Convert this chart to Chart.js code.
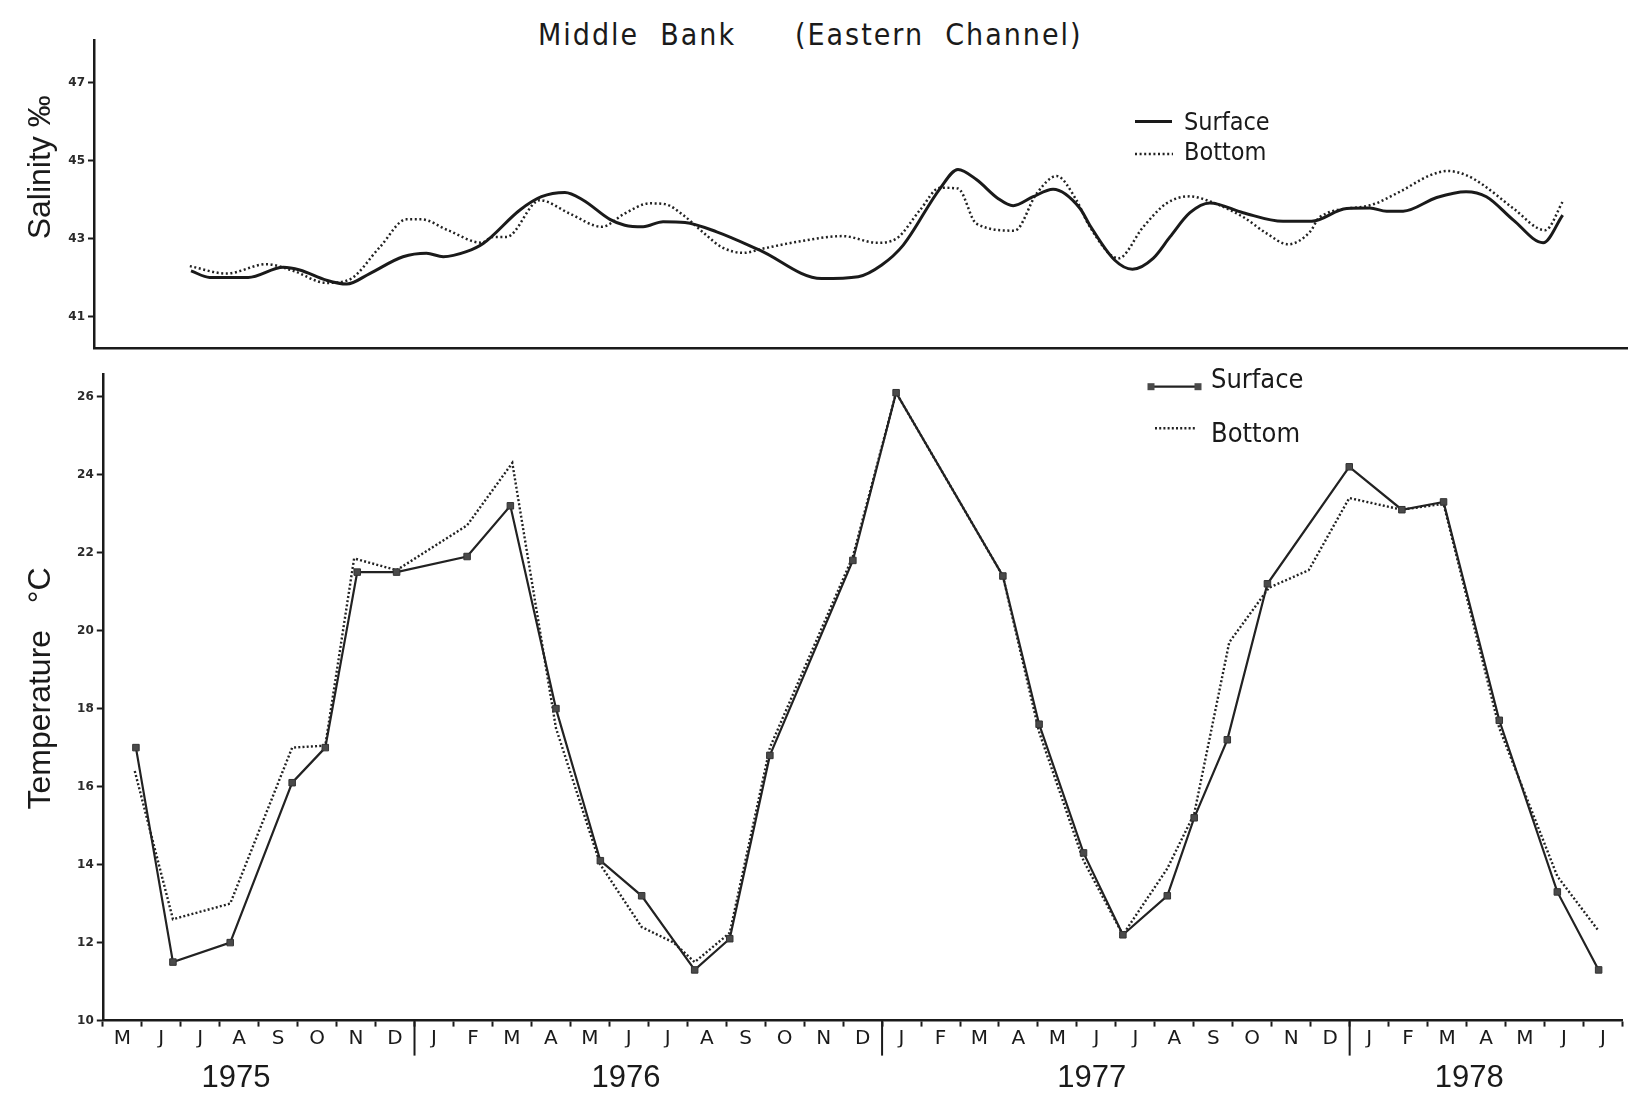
<!DOCTYPE html>
<html>
<head>
<meta charset="utf-8">
<title>Middle Bank (Eastern Channel)</title>
<script src="https://cdn.jsdelivr.net/npm/chart.js@4.4.1/dist/chart.umd.min.js"></script>
<style>
  html, body { margin: 0; padding: 0; background: #ffffff; width: 1628px; height: 1094px; overflow: hidden; }
  #title { position: absolute; top: 20px; left: 0; width: 1628px; height: 32px; line-height: 30px;
           font-family: 'DejaVu Sans Condensed', 'DejaVu Sans', sans-serif; font-size: 30px;
           letter-spacing: 2px; color: #1a1a1a; }
  #title span { position: absolute; top: 0; white-space: pre; }
  #salWrap { position: absolute; left: 0; top: 0; width: 1628px; height: 360px; }
  #tempWrap { position: absolute; left: 0; top: 360px; width: 1628px; height: 760px; }
</style>
</head>
<body>
<div id="title"><span style="left:538px">Middle  Bank</span><span style="left:795px">(Eastern  Channel)</span></div>
<div id="salWrap"><canvas id="sal" width="1628" height="360"></canvas></div>
<div id="tempWrap"><canvas id="temp" width="1628" height="760"></canvas></div>

<script>
// Time axis: months counted from 1 May 1975 (0) to 1 August 1978 (39)
const monthLabels = ['M','J','J','A','S','O','N','D',
  'J','F','M','A','M','J','J','A','S','O','N','D',
  'J','F','M','A','M','J','J','A','S','O','N','D',
  'J','F','M','A','M','J','J'];
const yearLabels = ['1975', '1976', '1977', '1978'];
const yearLabelAt = [3.42, 13.43, 25.38, 35.07];
const yearBreaks = [8, 20, 32];

const salinityTicks = [41, 43, 45, 47];
const temperatureTicks = [10, 12, 14, 16, 18, 20, 22, 24, 26];

// Salinity (‰)
const salinitySurfaceMonth = [2.26,2.74,3.72,4.62,5.04,5.72,6.24,6.83,7.68,8.28,8.71,9.30,9.73,10.67,11.22,
  11.82,12.29,12.97,13.35,13.82,14.33,14.89,15.70,16.80,18.38,19.32,19.92,20.47,21.41,21.87,
  22.34,22.90,23.28,23.79,24.30,24.99,25.24,25.88,26.33,26.86,27.29,27.80,28.31,29.16,30.18,
  30.91,31.81,32.40,32.83,33.25,34.11,34.86,35.38,36.07,36.83,37.33];
const salinitySurface = [42.18,42.01,42.01,42.27,42.20,41.94,41.84,42.11,42.54,42.63,42.54,42.67,42.88,43.74,44.08,
  44.19,43.99,43.50,43.35,43.31,43.44,43.42,43.18,42.71,41.98,42.03,42.33,42.84,44.29,44.78,
  44.52,44.03,43.85,44.08,44.27,43.78,43.35,42.45,42.22,42.50,43.05,43.67,43.92,43.67,43.45,
  43.45,43.78,43.79,43.71,43.71,44.06,44.21,44.08,43.48,42.90,43.61];

const salinityBottomMonth = [2.23,3.17,4.19,4.87,5.72,6.28,7.09,7.77,8.15,8.83,9.69,9.98,10.33,11.18,11.94,
  12.76,13.35,13.99,14.38,14.84,15.44,15.82,16.38,16.89,17.74,18.93,19.79,20.30,20.90,21.41,
  21.87,22.34,23.32,23.88,24.39,24.90,25.24,25.97,26.61,27.20,27.80,28.23,29.16,29.76,30.31,
  30.87,31.12,32.40,33.17,33.94,34.40,34.87,35.30,36.07,36.88,37.35];
const salinityBottom = [42.30,42.11,42.35,42.18,41.87,41.94,42.79,43.50,43.50,43.22,42.90,43.05,43.05,43.99,43.65,
  43.31,43.65,43.91,43.89,43.61,43.09,42.79,42.64,42.75,42.92,43.07,42.90,43.01,43.74,44.31,
  44.29,43.39,43.21,44.16,44.61,43.99,43.31,42.50,43.31,43.91,44.09,43.99,43.56,43.14,42.86,
  43.18,43.56,43.86,44.21,44.63,44.74,44.63,44.38,43.78,43.22,43.99];

// Temperature (°C)
const temperatureSurfaceMonth = [0.85,1.80,3.27,4.86,5.71,6.53,7.54,9.35,10.46,11.63,12.77,13.83,15.19,16.09,17.12,
  19.25,20.36,23.10,24.03,25.17,26.18,27.32,28.01,28.86,29.89,31.99,33.34,34.41,35.84,37.33,38.39];
const temperatureSurface = [17.0,11.5,12.0,16.1,17.0,21.5,21.5,21.9,23.2,18.0,14.1,13.2,11.3,12.1,16.8,
  21.8,26.1,21.4,17.6,14.3,12.2,13.2,15.2,17.2,21.2,24.2,23.1,23.3,17.7,13.3,11.3];

const temperatureBottomMonth = [0.82,1.80,3.27,4.86,5.71,6.45,7.54,9.35,10.51,11.63,12.77,13.83,14.65,15.19,16.09,
  17.12,19.25,20.36,23.10,24.03,25.17,26.18,27.32,28.01,28.91,29.93,30.95,31.99,33.34,34.41,35.84,37.33,38.39];
const temperatureBottom = [16.4,12.6,13.0,17.0,17.05,21.85,21.55,22.7,24.3,17.5,14.0,12.4,12.0,11.5,12.25,
  17.0,21.9,26.1,21.4,17.4,14.1,12.2,13.9,15.3,19.7,21.1,21.55,23.4,23.1,23.25,17.5,13.7,12.3];

const INK = '#1a1a1a';
const pts = (xs, ys) => xs.map((x, i) => ({ x: x, y: ys[i] }));

Chart.defaults.font.family = "'DejaVu Sans', sans-serif";
Chart.defaults.color = INK;

// Key drawn inside the plot, one row per dataset
const panelLegend = {
  id: 'panelLegend',
  afterDraw(chart, args, opts) {
    const ctx = chart.ctx;
    ctx.save();
    chart.data.datasets.forEach((ds, i) => {
      const row = opts.rows[i];
      ctx.strokeStyle = ds.borderColor;
      ctx.lineWidth = ds.borderWidth;
      ctx.setLineDash(ds.borderDash || []);
      ctx.beginPath();
      ctx.moveTo(row.x0, row.y);
      ctx.lineTo(row.x1, row.y);
      ctx.stroke();
      ctx.setLineDash([]);
      if (ds.pointRadius > 0) {
        const s = opts.marker;
        ctx.fillStyle = ds.pointBackgroundColor;
        ctx.fillRect(row.x0 - s / 2, row.y - s / 2, s, s);
        ctx.fillRect(row.x1 - s / 2, row.y - s / 2, s, s);
      }
      ctx.font = opts.font;
      ctx.fillStyle = INK;
      ctx.textBaseline = 'alphabetic';
      ctx.textAlign = 'left';
      ctx.fillText(ds.label, opts.textX, row.base);
    });
    ctx.restore();
  }
};

// Long ticks separating the calendar years on the time axis
const yearDividers = {
  id: 'yearDividers',
  afterDraw(chart, args, opts) {
    const sx = chart.scales.x;
    const ctx = chart.ctx;
    const top = chart.chartArea.bottom;
    ctx.save();
    ctx.strokeStyle = INK;
    ctx.lineWidth = opts.width;
    yearBreaks.forEach(v => {
      const px = sx.getPixelForValue(v);
      ctx.beginPath();
      ctx.moveTo(px, top);
      ctx.lineTo(px, top + opts.length);
      ctx.stroke();
    });
    ctx.restore();
  }
};

const yTickFont = { family: "'DejaVu Sans', sans-serif", size: 12, weight: 'bold' };
const axisTitleFont = { family: "'Liberation Sans', Arial, sans-serif", size: 32 };

// Salinity panel
new Chart(document.getElementById('sal'), {
  type: 'line',
  data: {
    datasets: [
      { label: 'Surface', data: pts(salinitySurfaceMonth, salinitySurface),
        borderColor: INK, borderWidth: 3, pointRadius: 0, fill: false,
        cubicInterpolationMode: 'monotone' },
      { label: 'Bottom', data: pts(salinityBottomMonth, salinityBottom),
        borderColor: '#222222', borderWidth: 2.5, borderDash: [2, 2.6], pointRadius: 0, fill: false,
        cubicInterpolationMode: 'monotone' }
    ]
  },
  options: {
    responsive: false,
    animation: false,
    layout: { padding: { top: 40, left: 0, right: 0, bottom: 0 } },
    plugins: {
      legend: { display: false },
      tooltip: { enabled: false },
      panelLegend: {
        font: "25px 'DejaVu Sans Condensed', 'DejaVu Sans', sans-serif",
        textX: 1184, marker: 0,
        rows: [ { x0: 1135, x1: 1172, y: 121.5, base: 130 },
                { x0: 1135, x1: 1173, y: 154, base: 160 } ]
      }
    },
    scales: {
      x: {
        type: 'linear', min: -0.22, max: 39,
        grid: { display: false },
        ticks: { display: false },
        border: { display: true, color: INK, width: 2.5 },
        afterFit(s) { s.height = 12; }
      },
      y: {
        min: 40.2, max: 48.1,
        afterBuildTicks(s) { s.ticks = salinityTicks.map(v => ({ value: v })); },
        ticks: { font: yTickFont, color: '#2a2a2a', padding: 3 },
        grid: { drawOnChartArea: false, drawTicks: true, tickLength: 6, tickWidth: 2, tickColor: INK },
        border: { color: INK, width: 2.5 },
        title: { display: true, text: '      Salinity ‰', font: axisTitleFont, color: INK,
                 padding: { top: 22, bottom: 0 } },
        afterFit(s) { s.width = 94; }
      }
    }
  },
  plugins: [panelLegend]
});

// Temperature panel
new Chart(document.getElementById('temp'), {
  type: 'line',
  data: {
    datasets: [
      { label: 'Surface', data: pts(temperatureSurfaceMonth, temperatureSurface),
        borderColor: '#222222', borderWidth: 2.2, tension: 0, fill: false,
        pointStyle: 'rect', pointRadius: 4.6, pointBackgroundColor: '#4a4a4a',
        pointBorderColor: '#333333', pointBorderWidth: 1 },
      { label: 'Bottom', data: pts(temperatureBottomMonth, temperatureBottom),
        borderColor: '#222222', borderWidth: 2.4, borderDash: [2, 2.2], tension: 0, fill: false,
        pointRadius: 0 }
    ]
  },
  options: {
    responsive: false,
    animation: false,
    layout: { padding: { top: 14, left: 0, right: 0, bottom: 0 } },
    plugins: {
      legend: { display: false },
      tooltip: { enabled: false },
      panelLegend: {
        font: "27px 'DejaVu Sans Condensed', 'DejaVu Sans', sans-serif",
        textX: 1211, marker: 7,
        rows: [ { x0: 1151, x1: 1198, y: 26.7, base: 28 },
                { x0: 1155, x1: 1197, y: 68.3, base: 82 } ]
      },
      yearDividers: { width: 2, length: 35 }
    },
    scales: {
      x: {
        type: 'linear', min: 0, max: 39, position: 'bottom', weight: 0,
        afterBuildTicks(s) {
          const t = [];
          for (let i = 0; i <= monthLabels.length * 2; i++) t.push({ value: i / 2 });
          s.ticks = t;
        },
        ticks: {
          autoSkip: false, maxRotation: 0, minRotation: 0, padding: 0,
          font: { family: "'DejaVu Sans', sans-serif", size: 20 }, color: INK,
          callback: v => Number.isInteger(v) ? '' : monthLabels[Math.floor(v)]
        },
        grid: {
          drawOnChartArea: false, drawTicks: true, tickLength: 6, tickWidth: 2,
          tickColor: c => (c.tick && Number.isInteger(c.tick.value)) ? INK : 'rgba(0,0,0,0)'
        },
        border: { color: INK, width: 2.5 },
        afterFit(s) { s.height = 27; }
      },
      xYear: {
        type: 'linear', min: 0, max: 39, position: 'bottom', weight: 1,
        afterBuildTicks(s) { s.ticks = yearLabelAt.map(v => ({ value: v })); },
        ticks: {
          autoSkip: false, maxRotation: 0, minRotation: 0, padding: 12,
          font: { family: "'Liberation Sans', Arial, sans-serif", size: 31 }, color: INK,
          callback: (v, i) => yearLabels[i]
        },
        grid: { display: false, drawTicks: false },
        border: { display: false },
        afterFit(s) { s.height = 72.4; }
      },
      y: {
        min: 10, max: 26.58,
        afterBuildTicks(s) { s.ticks = temperatureTicks.map(v => ({ value: v })); },
        ticks: { font: yTickFont, color: '#2a2a2a', padding: 3 },
        grid: { drawOnChartArea: false, drawTicks: true, tickLength: 6, tickWidth: 2, tickColor: INK },
        border: { color: INK, width: 2.5 },
        title: { display: true, text: '  Temperature   °C', font: axisTitleFont, color: INK,
                 padding: { top: 22, bottom: 0 } },
        afterFit(s) { s.width = 102.8; }
      }
    }
  },
  plugins: [panelLegend, yearDividers]
});
</script>
</body>
</html>
